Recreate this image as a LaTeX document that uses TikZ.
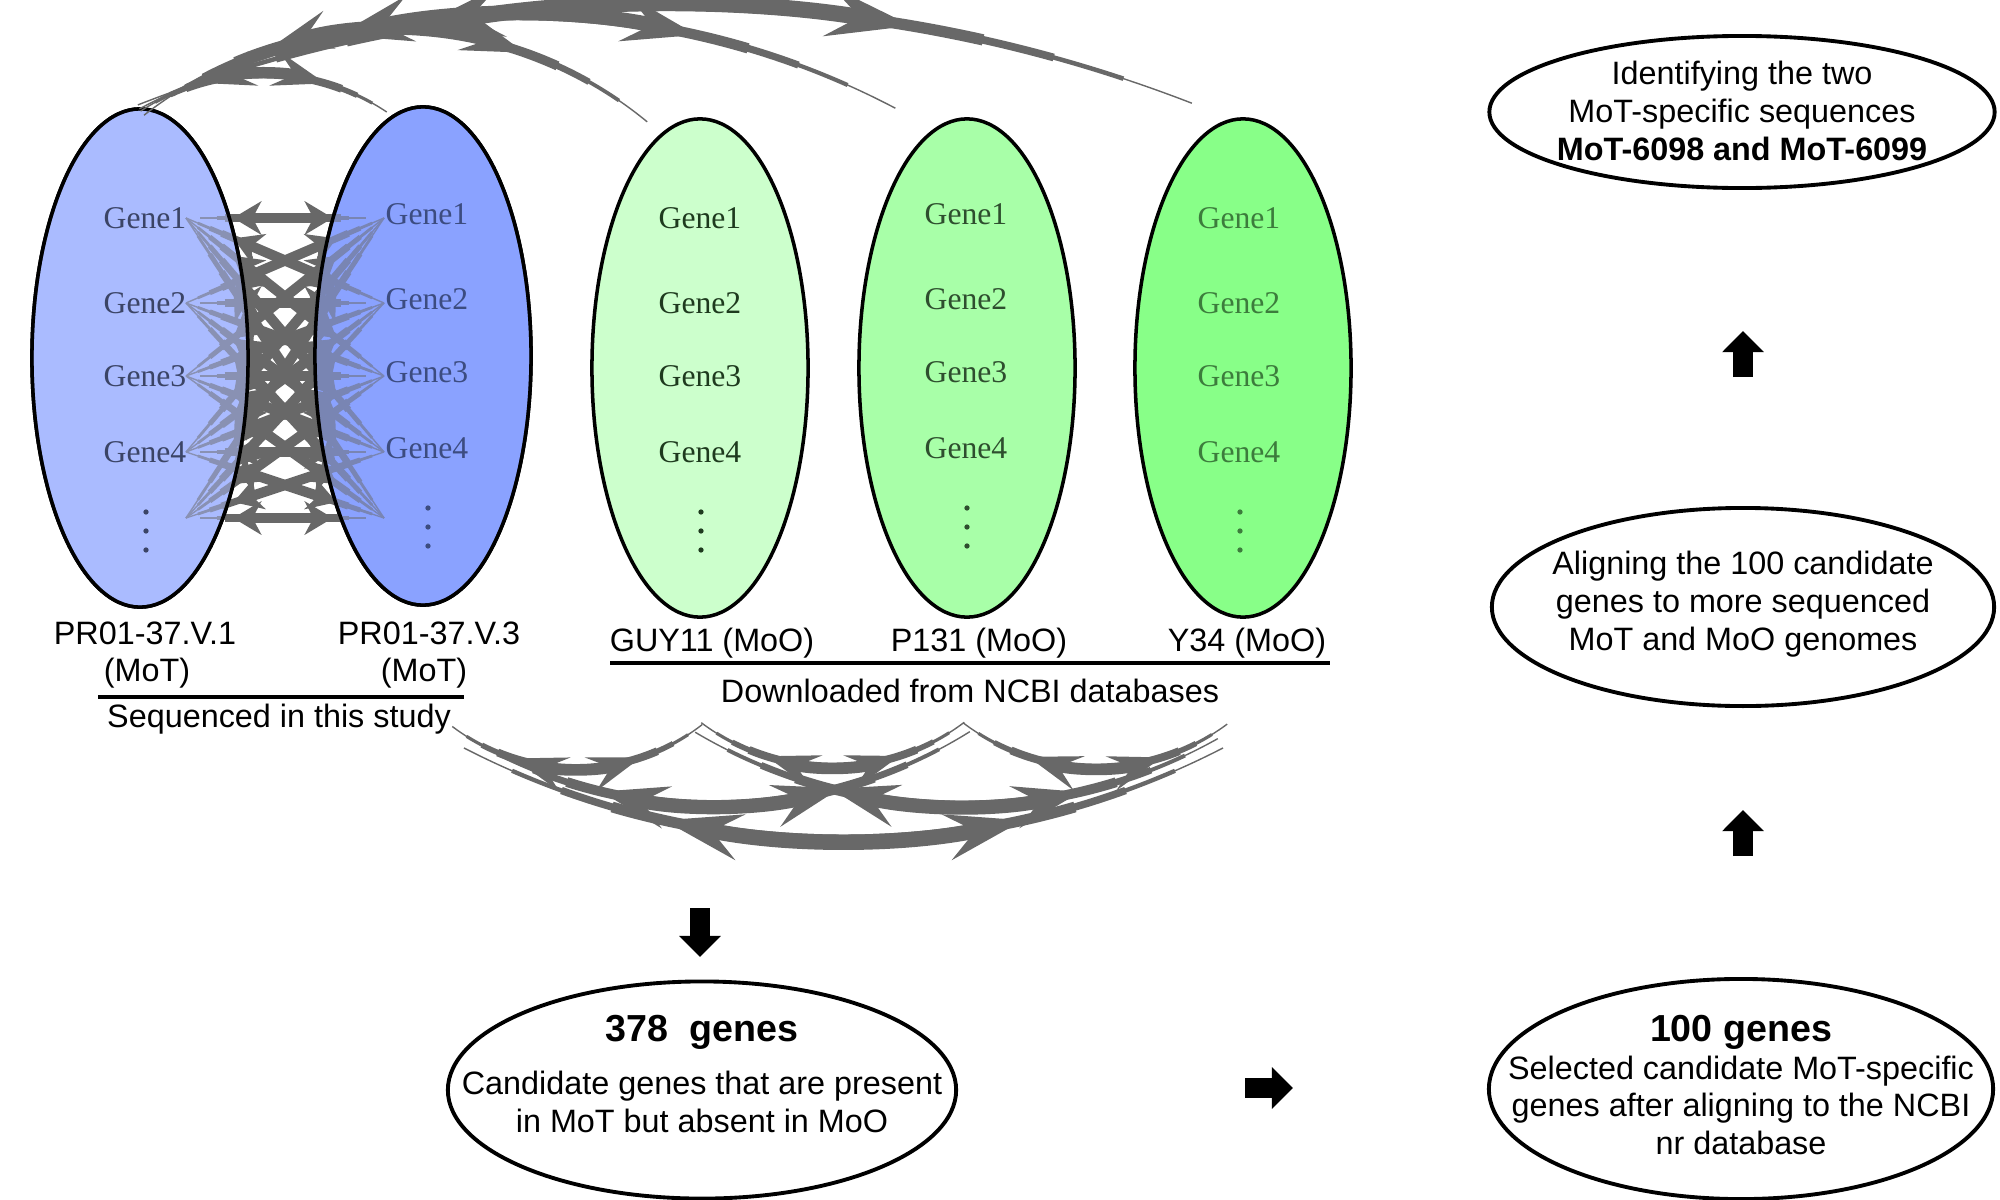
\documentclass[tikz,border=0pt]{standalone}
\usepackage{fontspec}
\setmainfont{Liberation Sans}
\newfontfamily\genefont{Liberation Serif}
\usetikzlibrary{shapes.geometric,arrows.meta,calc}
\definecolor{arcgray}{HTML}{686868}
\definecolor{blueA}{HTML}{AABBFF}
\definecolor{blueB}{HTML}{8AA2FF}
\definecolor{greenA}{HTML}{CCFFCC}
\definecolor{greenB}{HTML}{A8FFA8}
\definecolor{greenC}{HTML}{88FF88}
\definecolor{gtA}{HTML}{3B4466}
\definecolor{gtB}{HTML}{3C4C80}
\definecolor{gtC}{HTML}{1E3A1E}
\definecolor{gtD}{HTML}{2E4E2E}
\definecolor{gtE}{HTML}{3C7C3C}
\tikzset{
  geneell/.style={ellipse, draw=black, line width=1pt, minimum width=2.16cm, minimum height=4.98cm, inner sep=0pt},
  flowell/.style={ellipse, draw=black, line width=1.1pt, inner sep=0pt},
  flowtxt/.style={align=center, inner sep=0pt, font=\fontsize{9.2}{10.8}\selectfont},
  genelbl/.style={font=\genefont\fontsize{9}{11}\selectfont},
  lbl/.style={font=\fontsize{9.2}{11}\selectfont, inner sep=1pt},
  sepline/.style={line width=0.9pt},
  blockarrow/.style={line width=5.6pt, -{Triangle[length=6pt,width=11.5pt]}},
  grayline/.style={draw=arcgray},
}
% tapered double arrow along a circular arc
% #1 centre, #2 radius, #3 start angle, #4 end angle, #5 shaft width (pt),
% #6 head length, #7 head width, #8 inset, #9 fraction of the arc at which the heads sit
\newcommand\spkarc[9]{%
  \draw[grayline, line width=0.4pt] ($(#1)+(#3:#2)$) arc[start angle=#3, end angle=#4, radius=#2];
  \foreach \q/\m in {0.25/0.28,0.5/0.48,0.75/0.7}{%
    \pgfmathsetmacro\spkAa{#3+\q*#9*(#4-#3)}%
    \pgfmathsetmacro\spkAb{#4-\q*#9*(#4-#3)}%
    \draw[grayline, line width=\m*#5pt] ($(#1)+(\spkAa:#2)$) arc[start angle=\spkAa, end angle=\spkAb, radius=#2];
  }
  \pgfmathsetmacro\spkBa{#3+#9*(#4-#3)}%
  \pgfmathsetmacro\spkBb{#4-#9*(#4-#3)}%
  \draw[grayline, line width=#5pt, {Stealth[length=#6pt,width=#7pt,inset=#8pt]}-{Stealth[length=#6pt,width=#7pt,inset=#8pt]}] ($(#1)+(\spkBa:#2)$) arc[start angle=\spkBa, end angle=\spkBb, radius=#2];
}
% tapered straight double arrow: #1 from, #2 to, #3 head fraction
\newcommand\spkline[3]{%
  \draw[grayline, line width=0.4pt] (#1) -- (#2);
  \foreach \q/\m in {0.25/0.8,0.5/1.4,0.75/2.0}{%
    \draw[grayline, line width=\m pt] ($(#1)!\q*#3!(#2)$) -- ($(#2)!\q*#3!(#1)$);
  }
  \draw[grayline, line width=2.9pt, {Stealth[length=8pt,width=9.5pt,inset=2.5pt]}-{Stealth[length=8pt,width=9.5pt,inset=2.5pt]}] ($(#1)!#3!(#2)$) -- ($(#2)!#3!(#1)$);
}
\begin{document}
\begin{tikzpicture}[x=0.01cm,y=-0.01cm]
\useasboundingbox (0,0) rectangle (2000,1200);
% MoT ellipses (base fill)
\node[geneell, fill=blueA] (e1) at (140,358) {};
\node[geneell, fill=blueB] (e2) at (423,356) {};
% gene-to-gene arrows
\foreach \i/\y in {1/218,2/303,3/376,4/452,5/518}{
  \coordinate (lh\i) at (200,\y); \coordinate (rh\i) at (366,\y);
  \coordinate (ld\i) at (186,\y); \coordinate (rd\i) at (384,\y);
}
\foreach \i in {1,...,5}{
  \foreach \j in {1,...,5}{
    \ifnum\i=\j
      \spkline{lh\i}{rh\j}{0.2}
    \else
      \spkline{ld\i}{rd\j}{0.24}
    \fi
  }
}
% translucent overlay to tint arrows inside
\node[geneell, fill=blueA, fill opacity=0.5] (e1o) at (140,358) {};
\node[geneell, fill=blueB, fill opacity=0.5] (e2o) at (423,356) {};
% MoO ellipses
\node[geneell, fill=greenA] (e3) at (700,368) {};
\node[geneell, fill=greenB] (e4) at (967,368) {};
\node[geneell, fill=greenC] (e5) at (1243,368) {};
% gene labels and vertical ellipses
\foreach \n/\x/\yy/\c in {a/145/0/gtA, b/427/-4/gtB, c/700/0/gtC, d/966/-4/gtD, e/1239/0/gtE}{
  \foreach \k/\y in {1/218,2/303,3/376,4/452}{
    \node[genelbl, text=\c] (g\n\k) at ({\x},{\y+(\yy)}) {Gene\k};
  }
  \foreach \y in {512,531,550}{
    \fill[\c] ({\x+1},{\y+(\yy)}) circle[radius=0.75pt];
  }
}
% labels
\node[lbl] (n1a) at (145,633) {PR01-37.V.1};
\node[lbl] (n1b) at (147,673) {(MoT)};
\node[lbl] (n2a) at (429,633) {PR01-37.V.3};
\node[lbl] (n2b) at (424,673) {(MoT)};
\coordinate (s1) at (98,697); \coordinate (s2) at (464,697);
\draw[sepline] (s1) -- (s2);
\node[lbl] (seq) at (279,719) {Sequenced in this study};
\node[lbl] (n3) at (712,643) {GUY11 (MoO)};
\node[lbl] (n4) at (979,643) {P131 (MoO)};
\node[lbl] (n5) at (1247,643) {Y34 (MoO)};
\coordinate (d1) at (610,663); \coordinate (d2) at (1330,663);
\draw[sepline] (d1) -- (d2);
\node[lbl] (dl) at (970,691) {Downloaded from NCBI databases};
% top arcs (E1 to the other genomes)
\coordinate (cA) at (263,297.45);
\coordinate (cB) at (391.5,432);
\coordinate (cC) at (518,825.8);
\coordinate (cD) at (667,1457.2);
\spkarc{cA}{222.95}{236.7}{303.7}{3.2}{15}{10}{6}{0.26}
\spkarc{cB}{402}{232.0}{309.5}{3.8}{18}{11}{7}{0.26}
\spkarc{cC}{810.8}{242.16}{297.74}{4.2}{21}{13}{8}{0.27}
\spkarc{cD}{1452.2}{248.63}{291.19}{4.6}{24}{14}{9}{0.27}
% bottom arcs
\coordinate (c1) at (576,562.9);
\coordinate (c2) at (832.5,548);
\coordinate (c3) at (1096,547.5);
\coordinate (c4) at (714,322.3);
\coordinate (c5) at (962,282.8);
\coordinate (c6) at (843.5,11.3);
\spkarc{c1}{205.1}{127.1}{52.0}{3.2}{15}{10}{6}{0.26}
\spkarc{c2}{218.5}{126.9}{52.9}{3.2}{15}{10}{6}{0.26}
\spkarc{c3}{220}{127.1}{53.4}{3.2}{15}{10}{6}{0.26}
\spkarc{c4}{482.7}{120.4}{58.0}{4.0}{19}{12}{7}{0.27}
\spkarc{c5}{522.7}{120.7}{60.7}{4.0}{19}{12}{7}{0.27}
\spkarc{c6}{828.7}{117.26}{62.74}{4.4}{22}{13}{8}{0.27}
% flow ellipses
\node[flowell, minimum width=5.05cm, minimum height=1.52cm] (f1) at (1742,112) {};
\node[flowtxt] (f1t) at (1742,111) {Identifying the two\\MoT-specific sequences\\\textbf{MoT-6098 and MoT-6099}};
\node[flowell, minimum width=5.02cm, minimum height=1.98cm] (f2) at (1743,607) {};
\node[flowtxt] (f2t) at (1743,604) {Aligning the 100 candidate\\genes to more sequenced\\MoT and MoO genomes};
\node[flowell, minimum width=5.04cm, minimum height=2.20cm] (f3) at (1741,1089) {};
\node[flowtxt] (f3t) at (1741,1085) {{\fontsize{10.7}{12}\selectfont\bfseries 100 genes}\\Selected candidate MoT-specific\\genes after aligning to the NCBI\\nr database};
\node[flowell, minimum width=5.08cm, minimum height=2.17cm] (f4) at (702,1090) {};
\node[flowtxt] (f4t) at (702,1074) {{\fontsize{10.7}{12}\selectfont\bfseries 378\ \ genes}\\[4pt]Candidate genes that are present\\in MoT but absent in MoO};
% block arrows
\coordinate (da1) at (700,908); \coordinate (da2) at (700,957);
\draw[blockarrow] (da1) -- (da2);
\coordinate (ra1) at (1245,1088); \coordinate (ra2) at (1293,1088);
\draw[blockarrow] (ra1) -- (ra2);
\coordinate (ub1) at (1743,856); \coordinate (ub2) at (1743,810);
\draw[blockarrow] (ub1) -- (ub2);
\coordinate (ua1) at (1743,377); \coordinate (ua2) at (1743,331);
\draw[blockarrow] (ua1) -- (ua2);
\end{tikzpicture}
\end{document}
